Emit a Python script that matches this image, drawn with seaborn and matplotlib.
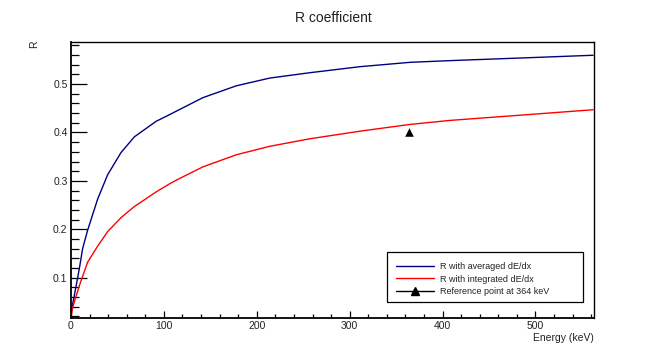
import matplotlib
matplotlib.use("Agg")
import matplotlib.pyplot as plt
import seaborn as sns
import pandas as pd
from matplotlib.ticker import MultipleLocator
from matplotlib.patches import Rectangle
from matplotlib.lines import Line2D

# ---- data ----
energy_avg = [0, 0.7, 3.5, 8.9, 12.5, 17.9, 28.6, 39.4, 53.8, 68.2, 91.5, 106.2, 114.8, 142, 178, 214, 257, 311, 365, 408, 485, 562]
r_avg = [0.017, 0.035, 0.0625, 0.118, 0.16, 0.198, 0.262, 0.3125, 0.3585, 0.391, 0.423, 0.437, 0.4455, 0.472, 0.4965, 0.5125, 0.5235, 0.536, 0.545, 0.5485, 0.554, 0.5596]

energy_int = [0, 1.7, 8.9, 17.9, 28.6, 39.4, 53.8, 68.2, 91.5, 106.2, 114.8, 142, 178, 214, 257, 311, 365, 408, 485, 562]
r_int = [0.017, 0.038, 0.083, 0.132, 0.165, 0.195, 0.224, 0.247, 0.277, 0.294, 0.303, 0.329, 0.354, 0.3715, 0.387, 0.4027, 0.4167, 0.425, 0.436, 0.447]

ref_energy = [364]
ref_r = [0.40]

series_names = ["R with averaged dE/dx", "R with integrated dE/dx"]
ref_name = "Reference point at 364 keV"
title = "R coefficient"
xlabel = "Energy (keV)"
ylabel = "R"

sns.set_theme(style="white")
plt.rcParams['font.family'] = ['Liberation Sans', 'DejaVu Sans']

df = pd.concat([
    pd.DataFrame({"E": energy_avg, "R": r_avg, "s": series_names[0]}),
    pd.DataFrame({"E": energy_int, "R": r_int, "s": series_names[1]}),
])
df_ref = pd.DataFrame({"E": ref_energy, "R": ref_r})

fig = plt.figure(figsize=(6.55, 3.49), dpi=100)
fig.patch.set_facecolor("white")
ax = fig.add_axes([71/655, 1-318/349, (594-71)/655, (318-42)/349])

colors = {series_names[0]: "#00007f", series_names[1]: "#ff0000"}
sns.lineplot(data=df, x="E", y="R", hue="s", palette=colors, sort=False,
             estimator=None, linewidth=1.0, ax=ax, legend=False)
sns.scatterplot(data=df_ref, x="E", y="R", marker="^", color="black", s=38,
                edgecolor="black", linewidth=0, ax=ax, legend=False)

ax.set_xlim(0, 563)
ax.set_ylim(0.0167, 0.587)
ax.xaxis.set_minor_locator(MultipleLocator(20))
ax.yaxis.set_minor_locator(MultipleLocator(0.02))
ax.set_yticks([0.1, 0.2, 0.3, 0.4, 0.5])
ax.set_yticklabels(["0.1", "0.2", "0.3", "0.4", "0.5"])
ax.set_xticks([0, 100, 200, 300, 400, 500])
ax.set_xticklabels(["0", "100", "200", "300", "400", "500"])

ax.tick_params(axis="x", which="major", direction="in", length=5.2, width=0.9,
               color="black", labelsize=7.5, pad=2.5, top=False, bottom=True)
ax.tick_params(axis="x", which="minor", direction="in", length=2.6, width=0.9,
               color="black", top=False, bottom=True)
ax.tick_params(axis="y", which="major", direction="in", length=11.3, width=0.9,
               color="black", labelsize=7.5, pad=2.5, left=True, right=False)
ax.tick_params(axis="y", which="minor", direction="in", length=5.8, width=0.9,
               color="black", left=True, right=False)
for t in ax.get_xticklabels() + ax.get_yticklabels():
    t.set_color("#222222")

for sp in ax.spines.values():
    sp.set_visible(True)
    sp.set_color("black")
    sp.set_linewidth(1.0)
ax.spines["left"].set_linewidth(1.3)
ax.spines["bottom"].set_linewidth(1.3)

ax.set_xlabel("")
ax.set_ylabel("")
fig.text(594/655, 1-338/349, xlabel, ha="right", va="center", fontsize=7.5, color="#222222")
fig.text(34/655, 1-41/349, ylabel, ha="center", va="top", rotation=90, fontsize=7.5, color="#222222")
fig.text(333/655, 1-18/349, title, ha="center", va="center", fontsize=10, color="#222222")

# legend box
rect = Rectangle((387/655, 1-302/349), (583-387)/655, (302-252)/349,
                 transform=fig.transFigure, facecolor="white", edgecolor="black",
                 linewidth=0.9, zorder=5)
fig.patches.append(rect)
handles = [
    Line2D([], [], color=colors[series_names[0]], linewidth=1.0),
    Line2D([], [], color=colors[series_names[1]], linewidth=1.0),
    Line2D([], [], color="black", linewidth=1.0, marker="^", markersize=5.5),
]
leg = fig.legend(handles, series_names + [ref_name], loc="lower left",
                 bbox_to_anchor=(390/655, 1-302/349), frameon=False, fontsize=6.5,
                 handlelength=4.2, handletextpad=0.6, labelspacing=0.35,
                 borderpad=0.2)
leg.set_zorder(6)
for t in leg.get_texts():
    t.set_color("#222222")

fig.savefig("out.png", dpi=100, facecolor="white")
